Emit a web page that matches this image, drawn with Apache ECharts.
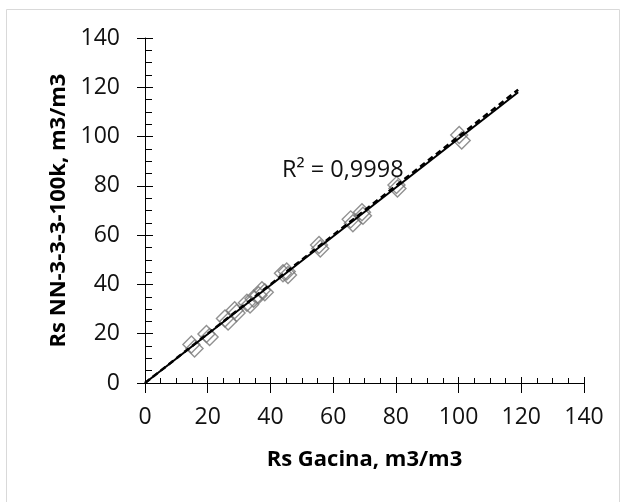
<!DOCTYPE html>
<html>
<head>
<meta charset="utf-8">
<script src="https://cdn.jsdelivr.net/npm/echarts@6/dist/echarts.min.js"></script>
<style>
html,body{margin:0;padding:0;background:#fff;}
#chart{width:625px;height:502px;}
</style>
</head>
<body>
<div id="chart"></div>
<script>
// Data
var gacinaX = [14.8, 15.8, 19.6, 20.6, 25.5, 26.5, 28.6, 29.2, 32.5, 33.5, 34.6, 36.2, 37.3, 38.2, 44.0, 45.2, 45.6, 55.5, 55.9, 65.6, 66.3, 69.2, 69.5, 80.2, 80.5, 100.2, 101.0];
var nnY     = [15.6, 14.0, 19.9, 18.7, 26.2, 25.0, 29.5, 28.4, 32.6, 31.9, 34.2, 35.6, 37.6, 36.8, 44.5, 45.2, 43.8, 56.0, 54.6, 66.4, 64.8, 69.3, 67.9, 80.3, 78.9, 100.6, 98.4];
var trendX = [0, 119];
var trendY = [0, 118];
var identityX = [0, 119];
var identityY = [0, 119];
var axisTicks = [0, 20, 40, 60, 80, 100, 120, 140];
var r2Text = 'R² = 0,9998';
var xName = 'Rs Gacina, m3/m3';
var yName = 'Rs NN-3-3-3-100k, m3/m3';

var points = gacinaX.map(function (x, i) { return [x, nnY[i]]; });
var trend = trendX.map(function (x, i) { return [x, trendY[i]]; });
var identity = identityX.map(function (x, i) { return [x, identityY[i]]; });

var FONT = '"Open Sans"';
var axisMin = axisTicks[0], axisMax = axisTicks[axisTicks.length - 1], step = axisTicks[1] - axisTicks[0];

function primaryAxis(isX) {
  return {
    type: 'value', min: axisMin, max: axisMax, interval: step,
    name: isX ? xName : yName,
    nameLocation: 'middle',
    nameGap: isX ? 66 : 73,
    nameTextStyle: { fontFamily: FONT, fontWeight: 'bold', fontSize: 22, color: '#000' },
    axisLine: { show: true, onZero: false, lineStyle: { color: '#000', width: 1 } },
    axisTick: { show: true, inside: true, length: isX ? 6 : 8, lineStyle: { color: '#000', width: 1 } },
    minorTick: { show: true, splitNumber: 4, length: isX ? 5 : 7, lineStyle: { color: '#000', width: 1 } },
    splitLine: { show: false },
    minorSplitLine: { show: false },
    axisLabel: { fontFamily: FONT, fontSize: 23, color: '#111', margin: isX ? 23 : 25 }
  };
}
function secondaryAxis(isX) {
  return {
    type: 'value', min: axisMin, max: axisMax, interval: step,
    position: isX ? 'bottom' : 'left',
    axisLine: { show: false, onZero: false },
    axisTick: { show: true, inside: false, length: isX ? 10 : 8, lineStyle: { color: '#000', width: 1 } },
    axisLabel: { show: false },
    splitLine: { show: false }
  };
}

var chart = echarts.init(document.getElementById('chart'), null, { renderer: 'canvas' });
chart.setOption({
  backgroundColor: '#fff',
  animation: false,
  grid: { left: 145, right: 41, top: 38, bottom: 119, containLabel: false },
  xAxis: [primaryAxis(true), secondaryAxis(true)],
  yAxis: [primaryAxis(false), secondaryAxis(false)],
  graphic: [
    { type: 'rect', shape: { x: 6.5, y: 9.5, width: 613, height: 500 }, style: { fill: 'none', stroke: '#d9d9d9', lineWidth: 1 }, silent: true, z: -10 },
    { type: 'text', left: 282, top: 158, style: { text: r2Text, fontFamily: FONT, fontSize: 23.5, fill: '#111' }, z: 10 }
  ],
  series: [
    {
      type: 'scatter', xAxisIndex: 0, yAxisIndex: 0, data: points,
      symbol: 'diamond', symbolSize: 17,
      itemStyle: { color: 'rgba(255,255,255,0)', borderColor: '#767676', borderWidth: 1.4 },
      z: 2
    },
    {
      type: 'line', xAxisIndex: 0, yAxisIndex: 0, data: identity,
      symbol: 'none', lineStyle: { color: '#000', width: 2.5, type: [6, 4] }, z: 3
    },
    {
      type: 'line', xAxisIndex: 0, yAxisIndex: 0, data: trend,
      symbol: 'none', lineStyle: { color: '#000', width: 2 }, z: 4
    }
  ]
});
</script>
</body>
</html>
